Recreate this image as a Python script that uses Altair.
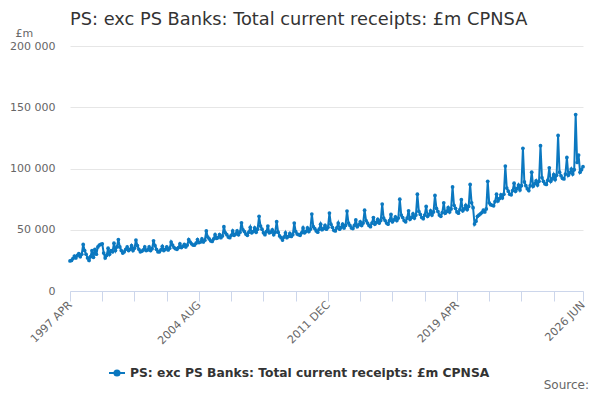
import altair as alt
import pandas as pd

series_name = "PS: exc PS Banks: Total current receipts: £m CPNSA"
line_color = "#0b78c0"

# Monthly values (£m), fiscal years April..March
fy1997 = [24500, 25000, 26500, 28500, 27000, 29000, 30500, 28000, 30000, 38000, 33000, 30000]
fy1998 = [27000, 25000, 28000, 33000, 27500, 34000, 30000, 36000, 37500, 38000, 38500, 31000]
fy1999 = [27000, 29000, 35000, 30000, 33000, 32000, 39000, 33000, 36000, 42000, 36000, 33000]
fy2000 = [31000, 32000, 34000, 36000, 33000, 34000, 37000, 33000, 35000, 41600, 37000, 34000]
fy2001 = [32000, 32500, 33500, 36000, 33000, 33500, 36000, 33000, 34500, 41000, 37000, 34000]
fy2002 = [32000, 32000, 33500, 36500, 33000, 34000, 36000, 33500, 35000, 40000, 37500, 35500]
fy2003 = [34500, 34000, 35500, 38500, 35500, 36500, 38000, 36000, 37500, 42000, 40000, 38500]
fy2004 = [37500, 37500, 39000, 42000, 39500, 40000, 42500, 40000, 41500, 49000, 44000, 42500]
fy2005 = [41000, 40500, 42500, 46000, 43000, 43500, 46000, 43500, 45000, 52500, 47500, 46000]
fy2006 = [44000, 43500, 45500, 49000, 45500, 46500, 49000, 46000, 48000, 55700, 50000, 48500]
fy2007 = [46500, 45500, 48000, 52000, 47500, 48500, 51500, 48000, 50500, 61000, 53000, 50500]
fy2008 = [47500, 46000, 48500, 53000, 47500, 48000, 50000, 46000, 48000, 56600, 48000, 45000]
fy2009 = [43500, 41600, 44000, 47500, 43500, 44500, 47000, 44500, 46000, 55500, 48500, 46500]
fy2010 = [46000, 45500, 47500, 51500, 47500, 48500, 51500, 48500, 50500, 62800, 52500, 51000]
fy2011 = [49000, 48000, 50500, 54500, 50000, 51000, 53500, 50500, 52000, 63600, 54500, 52000]
fy2012 = [49500, 49000, 51500, 55500, 50500, 52000, 54500, 51500, 53500, 65300, 55500, 53500]
fy2013 = [51500, 51000, 53500, 58000, 52500, 54000, 56500, 53500, 55500, 66000, 57500, 55500]
fy2014 = [53500, 52500, 55500, 60000, 54500, 56000, 58500, 55500, 57500, 71000, 59500, 57500]
fy2015 = [55500, 54500, 57500, 62500, 56500, 58000, 60500, 57500, 59500, 75000, 62000, 60000]
fy2016 = [57500, 56500, 59500, 65500, 58500, 60000, 63000, 59500, 62000, 79000, 65000, 62500]
fy2017 = [60000, 59000, 62000, 69000, 61000, 62500, 65500, 62000, 64500, 78000, 67500, 65000]
fy2018 = [62000, 61000, 64000, 72000, 63500, 65000, 68000, 64500, 67000, 85000, 70000, 67500]
fy2019 = [64500, 63500, 66500, 74500, 65500, 67000, 70000, 66500, 69000, 87000, 72000, 68000]
fy2020 = [54700, 57000, 61000, 62000, 63000, 64000, 66000, 64500, 67000, 89500, 72000, 70500]
fy2021 = [70000, 69500, 73000, 79000, 73500, 75500, 78500, 76000, 79000, 102000, 84000, 81500]
fy2022 = [79000, 78500, 82000, 88000, 81500, 83500, 86500, 82500, 86000, 116500, 89000, 86000]
fy2023 = [83500, 82000, 86000, 97000, 85500, 87500, 90000, 86500, 89500, 118600, 92500, 89500]
fy2024 = [87500, 87000, 90500, 100600, 89500, 91500, 95000, 91000, 94500, 127000, 97000, 94000]
fy2025 = [92000, 91500, 95500, 109000, 94500, 96500, 99500, 95500, 99000, 144000, 105000, 111000]
fy2026 = [97000, 99000, 101500]

fiscal_years = [fy1997, fy1998, fy1999, fy2000, fy2001, fy2002, fy2003, fy2004, fy2005,
                fy2006, fy2007, fy2008, fy2009, fy2010, fy2011, fy2012, fy2013, fy2014,
                fy2015, fy2016, fy2017, fy2018, fy2019, fy2020, fy2021, fy2022, fy2023,
                fy2024, fy2025, fy2026]
values = [v for fy in fiscal_years for v in fy]

months = [d.strftime("%Y %b").upper() for d in pd.date_range("1997-04-01", periods=len(values), freq="MS")]
label_months = ["1997 APR", "2004 AUG", "2011 DEC", "2019 APR", "2026 JUN"]
tick_months = months[::22] + [months[-1]]
y_ticks = [0, 50000, 100000, 150000, 200000]

df = pd.DataFrame({"month": months, "value": values, "series": series_name})

label_list = "[" + ",".join("'" + m + "'" for m in label_months) + "]"
font = "DejaVu Sans"

legend_path = "M-1,0L1,0M-0.32,0A0.32,0.32,0,1,1,0.32,0A0.32,0.32,0,1,1,-0.32,0Z"

line = alt.Chart(df).mark_line(
    strokeWidth=2,
    point=alt.OverlayMarkDef(filled=True, size=14, color=line_color),
).encode(
    x=alt.X("month:O", sort=None,
            scale=alt.Scale(type="point", padding=0),
            axis=alt.Axis(values=tick_months, title=None,
                          labelExpr="indexof(" + label_list + ", datum.label) >= 0 ? datum.label : ''",
                          labelAngle=-45, labelAlign="right", labelBaseline="middle",
                          labelPadding=2, labelFontSize=11, labelColor="#666666",
                          labelFont=font, labelOverlap=False,
                          tickSize=10, tickColor="#ccd6eb", domainColor="#ccd6eb",
                          grid=False)),
    y=alt.Y("value:Q",
            scale=alt.Scale(domain=[0, 200000], nice=False),
            axis=alt.Axis(values=y_ticks, title="£m", titleAngle=0, titleAlign="left",
                          titleBaseline="alphabetic", titleX=-55, titleY=-10,
                          titleFont=font, titleFontSize=11, titleFontWeight="normal",
                          titleColor="#666666",
                          labelExpr="datum.value == 0 ? '0' : format(datum.value / 1000, 'd') + ' 000'",
                          labelFont=font, labelFontSize=11, labelColor="#666666",
                          labelPadding=15, ticks=False, domain=False,
                          gridColor="#e6e6e6", gridWidth=1)),
    color=alt.Color("series:N", scale=alt.Scale(range=[line_color]),
                    legend=alt.Legend(title=None, orient="none", legendX=38, legendY=318,
                                      symbolType=legend_path, symbolSize=256,
                                      symbolStrokeWidth=2, symbolFillColor=line_color,
                                      symbolStrokeColor=line_color,
                                      labelFont=font, labelFontSize=12.3, labelFontWeight="bold",
                                      labelColor="#333333", labelLimit=500)),
)

title_text = alt.Chart(pd.DataFrame({"t": [series_name]})).mark_text(
    align="left", baseline="alphabetic", font=font, fontSize=17.8, color="#333333"
).encode(x=alt.value(0), y=alt.value(-21), text="t:N")

source = alt.Chart(pd.DataFrame({"t": ["Source:"]})).mark_text(
    align="right", baseline="middle", font=font, fontSize=12, color="#666666"
).encode(x=alt.value(519), y=alt.value(339), text="t:N")

chart = alt.layer(line, title_text, source).properties(
    width=513, height=245,
    autosize="none",
    padding={"left": 62, "top": 38, "right": 9, "bottom": 101},
).configure_view(stroke=None)

chart.save("out.html", embed_options={"renderer": "svg", "actions": False})
